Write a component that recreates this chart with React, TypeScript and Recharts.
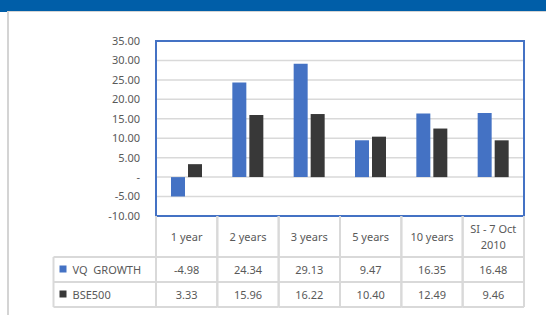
import { BarChart, Bar, XAxis, YAxis, CartesianGrid, ReferenceArea } from "recharts";

const categories = ["1 year", "2 years", "3 years", "5 years", "10 years", "SI - 7 Oct 2010"];
const categoryLines = [["1 year"], ["2 years"], ["3 years"], ["5 years"], ["10 years"], ["SI - 7 Oct", "2010"]];
const vqGrowth = [-4.98, 24.34, 29.13, 9.47, 16.35, 16.48];
const bse500 = [3.33, 15.96, 16.22, 10.4, 12.49, 9.46];
const seriesNames = ["VQ\u00A0 GROWTH", "BSE500"];
const seriesColors = ["#4472C4", "#383838"];
const yTicks = [-10, -5, 0, 5, 10, 15, 20, 25, 30, 35];

const data = categories.map((c, i) => ({ name: c, vq: vqGrowth[i], bse: bse500[i] }));

const FONT = "'Noto Sans', 'Open Sans', sans-serif";
const TEXT = "#595959";
const GRID = "#D9D9D9";
const HEADER_H = 41;
const ROW_H = 25;
const LEGEND_W = 102.5;

const TableTick = (props: any) => {
  const { x, y, payload } = props;
  const i = payload.index;
  const half = payload.offset || 30.67;
  const left = x - half;
  const right = x + half;
  const rows = [vqGrowth, bse500];
  const lines = categoryLines[i];
  const bottom = y + HEADER_H + ROW_H * 2;
  return (
    <g fontFamily={FONT} fontSize={11} fill={TEXT}>
      <line x1={left} x2={left} y1={y} y2={bottom} stroke={GRID} strokeWidth={2} />
      <line x1={right} x2={right} y1={y} y2={bottom} stroke={GRID} strokeWidth={2} />
      {[0, 1, 2].map((r) => (
        <line key={r} x1={left} x2={right} y1={y + HEADER_H + ROW_H * r} y2={y + HEADER_H + ROW_H * r} stroke={GRID} strokeWidth={2} />
      ))}
      {lines.map((l, k) => (
        <text key={k} x={x} y={y + HEADER_H / 2 + (k - (lines.length - 1) / 2) * 15.3} textAnchor="middle" dominantBaseline="central">
          {l}
        </text>
      ))}
      {rows.map((vals, r) => (
        <text key={r} x={x} y={y + HEADER_H + ROW_H * r + ROW_H / 2} textAnchor="middle" dominantBaseline="central">
          {vals[i].toFixed(2)}
        </text>
      ))}
      {i === 0 && (
        <g>
          <line x1={left - LEGEND_W} x2={left - LEGEND_W} y1={y + HEADER_H} y2={bottom} stroke={GRID} strokeWidth={2} />
          {[0, 1, 2].map((r) => (
            <line key={r} x1={left - LEGEND_W} x2={left} y1={y + HEADER_H + ROW_H * r} y2={y + HEADER_H + ROW_H * r} stroke={GRID} strokeWidth={2} />
          ))}
          {seriesNames.map((n, r) => (
            <g key={n}>
              <rect x={left - LEGEND_W + 6} y={y + HEADER_H + ROW_H * r + ROW_H / 2 - 4} width={7} height={7} fill={seriesColors[r]} />
              <text x={left - LEGEND_W + 19} y={y + HEADER_H + ROW_H * r + ROW_H / 2} dominantBaseline="central">
                {n}
              </text>
            </g>
          ))}
        </g>
      )}
    </g>
  );
};

export default function App() {
  return (
    <div style={{ position: "absolute", left: 0, top: 0, width: 546, height: 315, background: "#fff", overflow: "hidden" }}>
      <div style={{ position: "absolute", left: 0, top: 0, width: 546, height: 11, background: "#005EA8" }} />
      <div style={{ position: "absolute", left: 0, top: 11, width: 7, height: 1, background: "#005EA8" }} />
      <div style={{ position: "absolute", left: 7, top: 11, width: 539, height: 304, borderLeft: "2px solid #D4D4D4", borderTop: "1px solid #D4D4D4" }} />
      <div style={{ position: "absolute", left: 0, top: 0 }}>
        <BarChart width={546} height={315} data={data} margin={{ top: 41, right: 22, bottom: 8, left: 96 }} barSize={14} barGap={3}>
          <CartesianGrid vertical={false} stroke={GRID} strokeWidth={1.5} />
          <YAxis
            domain={[-10, 35]}
            ticks={yTicks}
            width={60}
            axisLine={false}
            tickLine={false}
            tickSize={0}
            tickMargin={16}
            interval={0}
            tick={{ fill: TEXT, fontSize: 11, fontFamily: FONT }}
            tickFormatter={(v: number) => (v === 0 ? "-" : v.toFixed(2))}
          />
          <XAxis dataKey="name" height={91} axisLine={false} tickLine={false} tickSize={0} tickMargin={0} interval={0} tick={<TableTick />} />
          <ReferenceArea y1={-10} y2={35} fill="none" stroke="#4472C4" strokeWidth={2} />
          <Bar dataKey="vq" name={seriesNames[0]} fill={seriesColors[0]} isAnimationActive={false} />
          <Bar dataKey="bse" name={seriesNames[1]} fill={seriesColors[1]} isAnimationActive={false} />
        </BarChart>
      </div>
    </div>
  );
}
